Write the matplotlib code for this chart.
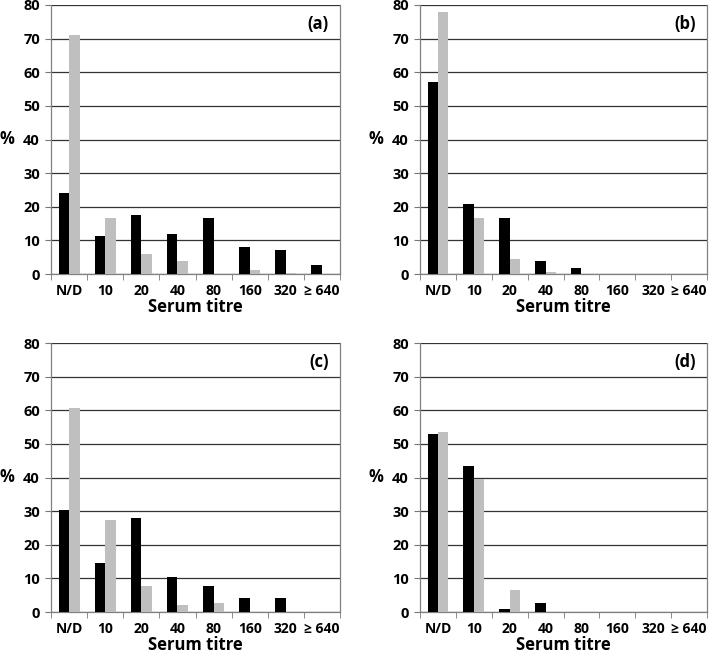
import numpy as np
import matplotlib
matplotlib.use('Agg')
import matplotlib.pyplot as plt

titres = ['N/D', '10', '20', '40', '80', '160', '320', '≥ 640']
panel_labels = ['(a)', '(b)', '(c)', '(d)']

# black series / grey series for each panel
a_black = [24.2, 11.4, 17.5, 12.0, 16.6, 8.0, 7.2, 2.6]
a_grey = [71.2, 16.6, 5.9, 3.8, 0.0, 1.3, 0.4, 0.0]
b_black = [57.2, 20.8, 16.8, 3.8, 1.8, 0.0, 0.0, 0.0]
b_grey = [77.9, 16.8, 4.4, 0.5, 0.0, 0.0, 0.0, 0.0]
c_black = [30.4, 14.7, 28.1, 10.3, 7.8, 4.2, 4.2, 0.0]
c_grey = [60.6, 27.3, 7.6, 2.0, 2.8, 0.0, 0.0, 0.0]
d_black = [52.8, 43.4, 1.0, 2.8, 0.0, 0.0, 0.0, 0.0]
d_grey = [53.6, 39.5, 6.6, 0.0, 0.0, 0.0, 0.0, 0.0]

blacks = [a_black, b_black, c_black, d_black]
greys = [a_grey, b_grey, c_grey, d_grey]

plt.rcParams['font.family'] = ['Open Sans', 'DejaVu Sans']
plt.rcParams['font.weight'] = 'bold'

fig = plt.figure(figsize=(7.09, 6.56), dpi=100)
W, H = 709, 656
# axes boxes in pixels: left, top, right, bottom
boxes = [(51, 5, 340, 274), (420, 5, 707, 274),
         (51, 343, 340, 612), (420, 343, 707, 612)]

x = np.arange(len(titres))
bw = 0.29
for i, (l, t, r, b) in enumerate(boxes):
    ax = fig.add_axes([l / W, 1 - b / H, (r - l) / W, (b - t) / H])
    ax.bar(x - bw / 2, blacks[i], width=bw, color='black', zorder=3)
    ax.bar(x + bw / 2, greys[i], width=bw, color='#bfbfbf', zorder=3)
    ax.set_xlim(-0.5, len(titres) - 0.5)
    ax.set_ylim(0, 80)
    ax.set_yticks(np.arange(0, 81, 10))
    ax.yaxis.grid(True, color='#333333', linewidth=0.9, zorder=0)
    ax.set_xticks(x)
    ax.set_xticklabels(titres, fontsize=10, fontweight='bold')
    ax.set_xticks(np.arange(-0.5, len(titres)), minor=True)
    ax.tick_params(axis='x', which='major', length=0, pad=7)
    ax.tick_params(axis='x', which='minor', length=4, color='#777777')
    ax.tick_params(axis='y', length=4, color='#777777', labelsize=10.5, pad=4)
    for lab in ax.get_yticklabels():
        lab.set_fontweight('bold')
    for s in ['left', 'right', 'bottom']:
        ax.spines[s].set_color('#808080')
        ax.spines[s].set_linewidth(0.9)
    ax.spines['top'].set_visible(False)
    ax.set_xlabel('Serum titre', fontsize=12, fontweight='bold', labelpad=0)
    ax.set_ylabel('%', fontsize=12, fontweight='bold', rotation=0, labelpad=12, va='center')
    ax.text(0.96, 0.93, panel_labels[i], transform=ax.transAxes, ha='right', va='center',
            fontsize=12, fontweight='bold')

fig.savefig('out.png', dpi=100)
